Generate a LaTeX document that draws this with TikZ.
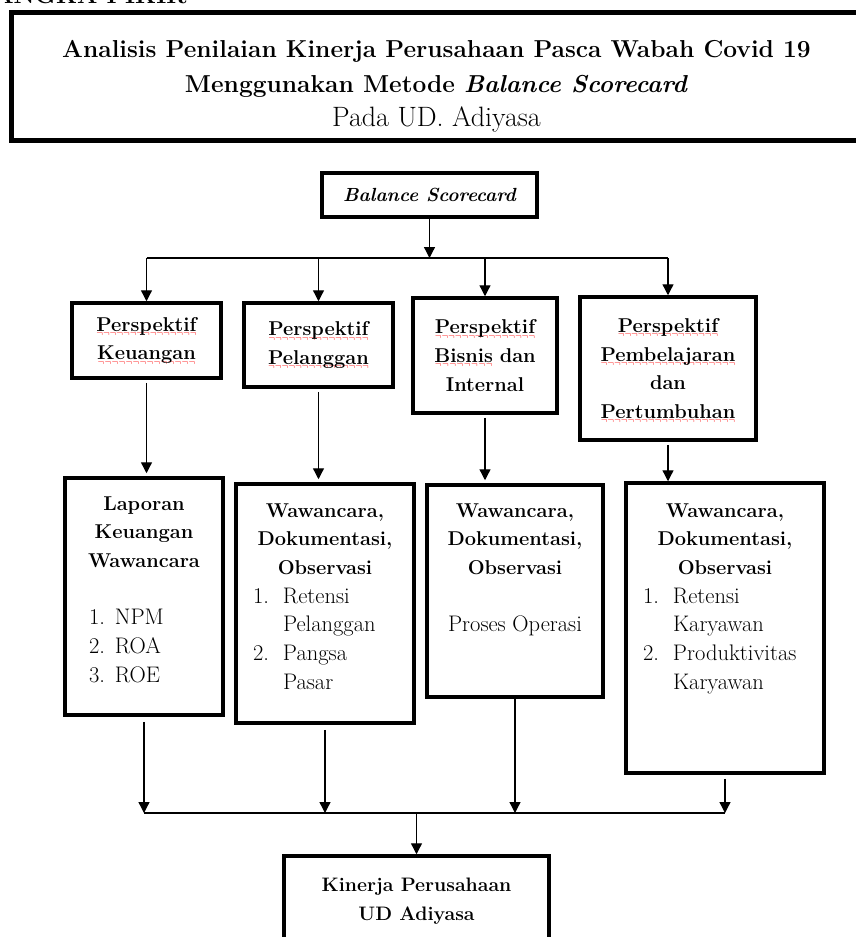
\documentclass[tikz,border=0pt]{standalone}
\usepackage{xcolor}
\usepackage{tikz}
\usetikzlibrary{positioning, arrows.meta}

\IfFileExists{lasy10.tfm}{\font\wavefont=lasy10}{\font\wavefont=cmsy10}
\newsavebox{\wavybox}
\newcommand{\wavy}[1]{\leavevmode\sbox{\wavybox}{#1}%
  \rlap{\textcolor{red}{\raisebox{-5.5pt}[0pt][0pt]{\hbox to\wd\wavybox{\xleaders\hbox{\wavefont\char58}\hfil}}}}%
  \usebox{\wavybox}}
\newcommand{\boxfont}{\fontsize{20}{28.7}\selectfont}
\newcommand{\listfont}{\fontsize{22.5}{28.7}\selectfont}
\newcommand{\numlabel}[1]{\makebox[30pt][l]{#1}}
\newcommand{\numgap}{\hspace*{30pt}}

\begin{document}
\begin{tikzpicture}[
    x=1pt, y=-1pt,
    frame/.style={draw, line width=3.5pt, inner sep=0pt},
    persp/.style={frame, font=\boxfont\bfseries, align=center},
    boxtext/.style={inner sep=0pt, font=\boxfont},
    arr/.style={-{Triangle[width=11pt, length=11pt]}, line width=1.3pt},
    bus/.style={line width=1.3pt}
]
  \path[use as bounding box] (0,0) rectangle (856,937);
  \clip (0,0) rectangle (856,937);

  % Title
  \node[anchor=base east, font=\fontsize{24}{28}\selectfont\bfseries] (heading) at (190,3) {KERANGKA PIKIR};
  \node[frame, line width=5pt, minimum width=851, minimum height=128] (title) at (436.5,76) {};
  \node[boxtext, align=center, font=\fontsize{24.5}{34.5}\selectfont, below=31pt of title.north] (titletext)
    {\textbf{Analisis Penilaian Kinerja Perusahaan Pasca Wabah Covid 19}\\
     \textbf{Menggunakan Metode \textit{Balance Scorecard}}\\
     {\fontsize{28}{34.5}\selectfont Pada UD. Adiyasa}};

  % Top row
  \node[frame, minimum width=215, minimum height=44, font=\fontsize{19}{22}\selectfont\bfseries\itshape] (bsc) at (429.5,195) {Balance Scorecard};

  \node[persp, text width=141pt, minimum width=149, minimum height=75] (k1) at (146.5,340.5)
    {\wavy{Perspektif}\\ \wavy{Keuangan}};
  \node[persp, text width=141pt, minimum width=149, minimum height=84] (k2) at (318.5,345)
    {\wavy{Perspektif}\\ \wavy{Pelanggan}};
  \node[persp, text width=136pt, minimum width=144, minimum height=115] (k3) at (485,355.5)
    {\wavy{Perspektif}\\ \wavy{Bisnis} dan\\ Internal};
  \node[persp, text width=168pt, minimum width=176, minimum height=143] (k4) at (668,368.5)
    {\wavy{Perspektif}\\ \wavy{Pembelajaran}\\ dan\\ \wavy{Pertumbuhan}};

  % Data boxes
  \node[frame, minimum width=158, minimum height=237] (l1) at (144,596.5) {};
  \node[boxtext, text width=158pt, below=20pt of l1.north] (l1text) {%
    {\centering\bfseries Laporan\\ Keuangan\\ Wawancara\par}
    \vspace{28.7pt}
    {\listfont\leftskip=24pt 1. NPM\\ 2. ROA\\ 3. ROE\par}};

  \node[frame, minimum width=178, minimum height=239] (l2) at (325,603.5) {};
  \node[boxtext, text width=178pt, below=21pt of l2.north] (l2text) {%
    {\centering\bfseries Wawancara,\\ Dokumentasi,\\ Observasi\par}
    {\listfont\leftskip=17pt \numlabel{1.}Retensi\\ \numgap Pelanggan\\ \numlabel{2.}Pangsa\\ \numgap Pasar\par}};

  \node[frame, minimum width=176, minimum height=212] (l3) at (515,591) {};
  \node[boxtext, text width=176pt, below=20pt of l3.north] (l3text) {%
    {\centering\bfseries Wawancara,\\ Dokumentasi,\\ Observasi\par}
    \vspace{28.7pt}
    {\listfont\centering Proses Operasi\par}};

  \node[frame, minimum width=198, minimum height=290] (l4) at (725,628) {};
  \node[boxtext, text width=198pt, below=22pt of l4.north] (l4text) {%
    {\centering\bfseries Wawancara,\\ Dokumentasi,\\ Observasi\par}
    {\listfont\leftskip=17pt \numlabel{1.}Retensi\\ \numgap Karyawan\\ \numlabel{2.}Produktivitas\\ \numgap Karyawan\par}};

  % Result
  \node[frame, minimum width=265, minimum height=90, align=center, font=\fontsize{19.5}{29}\selectfont\bfseries] (result) at (416.5,901)
    {Kinerja Perusahaan\\ UD Adiyasa};

  % Arrows
  \coordinate (topbus) at (429.5,258);
  \coordinate (lowbus) at (416.5,813);

  \draw[arr] (bsc.south) -- (bsc.south |- topbus);
  \draw[bus] (k1.north |- topbus) -- (k4.north |- topbus);
  \draw[arr] (k1.north |- topbus) -- (k1.north);
  \draw[arr] (k2.north |- topbus) -- (k2.north);
  \draw[arr] (k3.north |- topbus) -- (k3.north);
  \draw[arr] (k4.north |- topbus) -- (k4.north);

  \draw[arr, shorten <=3pt, shorten >=3pt] (k1.south) -- (k1.south |- l1.north);
  \draw[arr, shorten <=3pt, shorten >=3pt] (k2.south) -- (k2.south |- l2.north);
  \draw[arr, shorten <=3pt, shorten >=3pt] (k3.south) -- (k3.south |- l3.north);
  \draw[arr, shorten <=3pt] (k4.south) -- (k4.south |- l4.north);

  \draw[arr, shorten <=5pt] (l1.south) -- (l1.south |- lowbus);
  \draw[arr, shorten <=5pt] (l2.south) -- (l2.south |- lowbus);
  \draw[arr] (l3.south) -- (l3.south |- lowbus);
  \draw[arr, shorten <=4pt] (l4.south) -- (l4.south |- lowbus);
  \draw[bus] (l1.south |- lowbus) -- (l4.south |- lowbus);
  \draw[arr] (result.north |- lowbus) -- (result.north);

\end{tikzpicture}
\end{document}
